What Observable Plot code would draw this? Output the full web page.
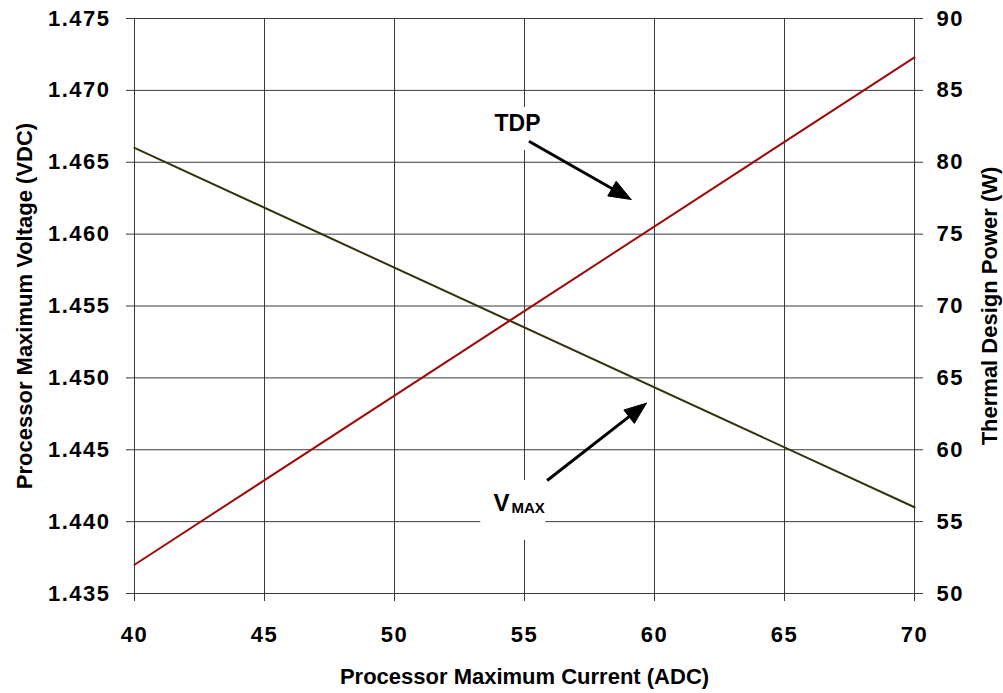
<!DOCTYPE html>
<html><head><meta charset="utf-8">
<script src="https://cdn.jsdelivr.net/npm/d3@7"></script>
<script src="https://cdn.jsdelivr.net/npm/@observablehq/plot@0.6"></script>
<style>
body{margin:0;background:#fff;}
svg text{font-family:"Liberation Sans",Arial,sans-serif;font-weight:bold;}
</style></head><body><div id="chart"></div>
<script>
// ---- data ----
const currentA = [40, 70];              // Processor Maximum Current (ADC)
const vmaxV = [1.466, 1.441];           // Processor Maximum Voltage (VDC)
const tdpW = [52.0, 87.3];              // Thermal Design Power (W)
const xTicks = [40, 45, 50, 55, 60, 65, 70];
const vTicks = [1.435, 1.44, 1.445, 1.45, 1.455, 1.46, 1.465, 1.47, 1.475];
const wTicks = [50, 55, 60, 65, 70, 75, 80, 85, 90];
const xDomain = [40, 70];
const vDomain = [1.435, 1.475];
const wDomain = [50, 90];

// annotations (data units of current / voltage)
const arrowNames = ["TDP", "VMAX"];
const arrowX1 = [55.17, 55.87];
const arrowY1 = [1.46646, 1.44286];
const arrowX2 = [59.10, 59.69];
const arrowY2 = [1.46241, 1.44824];
const boxX1 = [53.47, 53.32];
const boxX2 = [56.08, 55.82];
const boxY1 = [1.46881, 1.43869];
const boxY2 = [1.46582, 1.44286];
const tdpLabel = [{text: "TDP", x: 54.73, y: 1.4677}];
const vLabel = [{text: "V", x: 53.81, y: 1.44077}];
const maxLabel = [{text: "MAX", x: 54.50, y: 1.44063}];

// ---- layout ----
const W = 1003, H = 693, mL = 134, mR = 89, mT = 18, mB = 100;

const toV = w => vDomain[0] + (w - wDomain[0]) * (vDomain[1] - vDomain[0]) / (wDomain[1] - wDomain[0]);
const fromV = v => wDomain[0] + (v - vDomain[0]) * (wDomain[1] - wDomain[0]) / (vDomain[1] - vDomain[0]);

const vmaxData = currentA.map((c, i) => ({current: c, v: vmaxV[i]}));
const tdpData = currentA.map((c, i) => ({current: c, v: toV(tdpW[i])}));

const kx = (W - mL - mR) / (xDomain[1] - xDomain[0]);
const ky = (H - mT - mB) / (vDomain[1] - vDomain[0]);
const shafts = [], heads = [];
arrowNames.forEach((n, i) => {
  const px = (arrowX2[i] - arrowX1[i]) * kx, py = -(arrowY2[i] - arrowY1[i]) * ky;
  const len = Math.hypot(px, py), ux = px / len, uy = py / len;
  const L = 22, HW = 8.5;
  const bx = -L * ux, by = -L * uy;
  const toData = (ox, oy) => ({name: n, x: arrowX2[i] + ox / kx, y: arrowY2[i] - oy / ky});
  const tip = toData(0, 0);
  heads.push(tip, toData(bx - HW * uy, by + HW * ux), toData(bx + HW * uy, by - HW * ux), tip);
  const se = toData(bx * 0.5, by * 0.5);
  shafts.push({x1: arrowX1[i], y1: arrowY1[i], x2: se.x, y2: se.y});
});
const boxes = arrowNames.map((n, i) => ({x1: boxX1[i], x2: boxX2[i], y1: boxY1[i], y2: boxY2[i]}));

const gridColor = "#3a3a3a";
const chart = Plot.plot({
  width: W, height: H,
  marginLeft: mL, marginRight: mR, marginTop: mT, marginBottom: mB,
  style: {fontFamily: "'Liberation Sans', Arial, sans-serif", fontWeight: "bold", background: "#fff", color: "#000"},
  x: {domain: xDomain},
  y: {domain: vDomain},
  marks: [
    Plot.gridX(xTicks, {stroke: gridColor, strokeOpacity: 1, strokeWidth: 1}),
    Plot.gridY(vTicks, {stroke: gridColor, strokeOpacity: 1, strokeWidth: 1}),
    Plot.axisX({ticks: xTicks, tickSize: 8, tickPadding: 25, fontSize: 22, fontWeight: "bold", stroke: gridColor, label: null, tickFormat: d => String(d)}),
    Plot.axisY({ticks: vTicks, anchor: "left", tickSize: 8, tickPadding: 16, fontSize: 22, fontWeight: "bold", stroke: gridColor, label: null, tickFormat: d3.format(".3f")}),
    Plot.axisY({ticks: wTicks.map(toV), anchor: "right", tickSize: 8, tickPadding: 14, fontSize: 22, fontWeight: "bold", stroke: gridColor, label: null, tickFormat: v => String(Math.round(fromV(v)))}),
    Plot.rect(boxes, {x1: "x1", x2: "x2", y1: "y1", y2: "y2", fill: "white"}),
    Plot.line(vmaxData, {x: "current", y: "v", stroke: "#33330a", strokeWidth: 2}),
    Plot.line(tdpData, {x: "current", y: "v", stroke: "#9e0b0b", strokeWidth: 2}),
    Plot.link(shafts, {x1: "x1", y1: "y1", x2: "x2", y2: "y2", stroke: "black", strokeWidth: 3}),
    Plot.line(heads, {x: "x", y: "y", z: "name", fill: "black", stroke: "black", strokeWidth: 1}),
    Plot.text(tdpLabel, {x: "x", y: "y", text: "text", fontSize: 23, fontWeight: "bold", textAnchor: "middle", lineAnchor: "middle", fill: "black"}),
    Plot.text(vLabel, {x: "x", y: "y", text: "text", fontSize: 24, fontWeight: "bold", textAnchor: "start", lineAnchor: "bottom", fill: "black"}),
    Plot.text(maxLabel, {x: "x", y: "y", text: "text", fontSize: 15, fontWeight: "bold", textAnchor: "start", lineAnchor: "bottom", fill: "black"}),
    Plot.text(["Processor Maximum Current (ADC)"], {frameAnchor: "bottom", dy: 90, lineAnchor: "bottom", textAnchor: "middle", fontSize: 22, fontWeight: "bold", fill: "black", ariaLabel: "title"}),
    Plot.text(["Processor Maximum Voltage (VDC)"], {frameAnchor: "left", dx: -103, rotate: -90, lineAnchor: "bottom", textAnchor: "middle", fontSize: 22, fontWeight: "bold", fill: "black", ariaLabel: "title"}),
    Plot.text(["Thermal Design Power (W)"], {frameAnchor: "right", dx: 82, rotate: -90, lineAnchor: "bottom", textAnchor: "middle", fontSize: 22, fontWeight: "bold", fill: "black", ariaLabel: "title"})
  ]
});
document.getElementById("chart").appendChild(chart);
d3.select(chart).selectAll('[aria-label="x-axis tick label"] text, [aria-label="y-axis tick label"] text').attr("letter-spacing", "1.5px");
d3.select(chart).selectAll('[aria-label="title"] text').attr("letter-spacing", "0.9px");
</script></body></html>
